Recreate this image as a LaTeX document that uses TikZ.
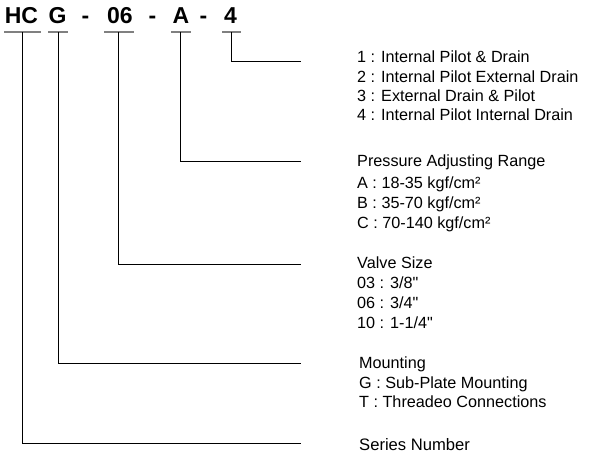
\documentclass[tikz,border=0pt]{standalone}
\usepackage{fontspec}
\setmainfont{Liberation Sans}[Ligatures=TeXOff]

\begin{document}
\begin{tikzpicture}[x=1pt,y=-1pt,
	code/.style={font=\fontsize{23}{23}\selectfont\bfseries, anchor=base, inner sep=0pt},
	item/.style={font=\fontsize{16.2}{20}\selectfont, anchor=base west, inner sep=0pt},
	underline/.style={gray, line width=1.5pt},
	leader/.style={line width=0.9pt}]

	\useasboundingbox (0,0) rectangle (599,471);

	% inch mark
	\def\inch{\char"22}

	% model code
	\node[code] (hc) at (21.5,23) {HC};
	\node[code] (g)  at (57.5,23) {G};
	\node[code] (d1) at (85.5,23) {-};
	\node[code] (sz) at (120,23) {06};
	\node[code] (d2) at (152.5,23) {-};
	\node[code] (pr) at (181,23) {A};
	\node[code] (d3) at (203.5,23) {-};
	\node[code] (pl) at (230.5,23) {4};

	% underlines
	\draw[underline] (4,32) -- (41,32);
	\draw[underline] (48,32) -- (68,32);
	\draw[underline] (104,32) -- (134,32);
	\draw[underline] (171,32) -- (191,32);
	\draw[underline] (222,32) -- (241,32);

	% leader start and end points
	\coordinate (hc-s) at (22,32);
	\coordinate (g-s)  at (58,32);
	\coordinate (sz-s) at (118,32);
	\coordinate (pr-s) at (180,32);
	\coordinate (pl-s) at (231,32);

	\coordinate (hc-e) at (301,443);
	\coordinate (g-e)  at (301,363);
	\coordinate (sz-e) at (301,264);
	\coordinate (pr-e) at (301,161);
	\coordinate (pl-e) at (301,61);

	% leaders
	\draw[leader] (pl-s) |- (pl-e);
	\draw[leader] (pr-s) |- (pr-e);
	\draw[leader] (sz-s) |- (sz-e);
	\draw[leader] (g-s)  |- (g-e);
	\draw[leader] (hc-s) |- (hc-e);

	% pilot and drain
	\node[item] (pl1) at (357,62.7)  {1 : Internal Pilot \& Drain};
	\node[item] (pl2) at (357,82)    {2 : Internal Pilot External Drain};
	\node[item] (pl3) at (357,101.3) {3 : External Drain \& Pilot};
	\node[item] (pl4) at (357,120.8) {4 : Internal Pilot Internal Drain};

	% pressure range
	\node[item] (pr0) at (357,166.7) {Pressure Adjusting Range};
	\node[item] (pr1) at (357,188.3) {A : 18-35 kgf/cm²};
	\node[item] (pr2) at (357,208.3) {B : 35-70 kgf/cm²};
	\node[item] (pr3) at (357,228.3) {C : 70-140 kgf/cm²};

	% valve size
	\node[item] (sz0) at (357,268.3) {Valve Size};
	\node[item] (sz1) at (357,288.3) {03 : 3/8\inch};
	\node[item] (sz2) at (357,308.3) {06 : 3/4\inch};
	\node[item] (sz3) at (357,328.3) {10 : 1-1/4\inch};

	% mounting
	\node[item] (g0) at (359,368.3) {Mounting};
	\node[item] (g1) at (359,388.3) {G : Sub-Plate Mounting};
	\node[item] (g2) at (359,407.5) {T : Threadeo Connections};

	% series
	\node[item, font=\fontsize{16.6}{20}\selectfont] (hc0) at (359,450) {Series Number};

\end{tikzpicture}
\end{document}
